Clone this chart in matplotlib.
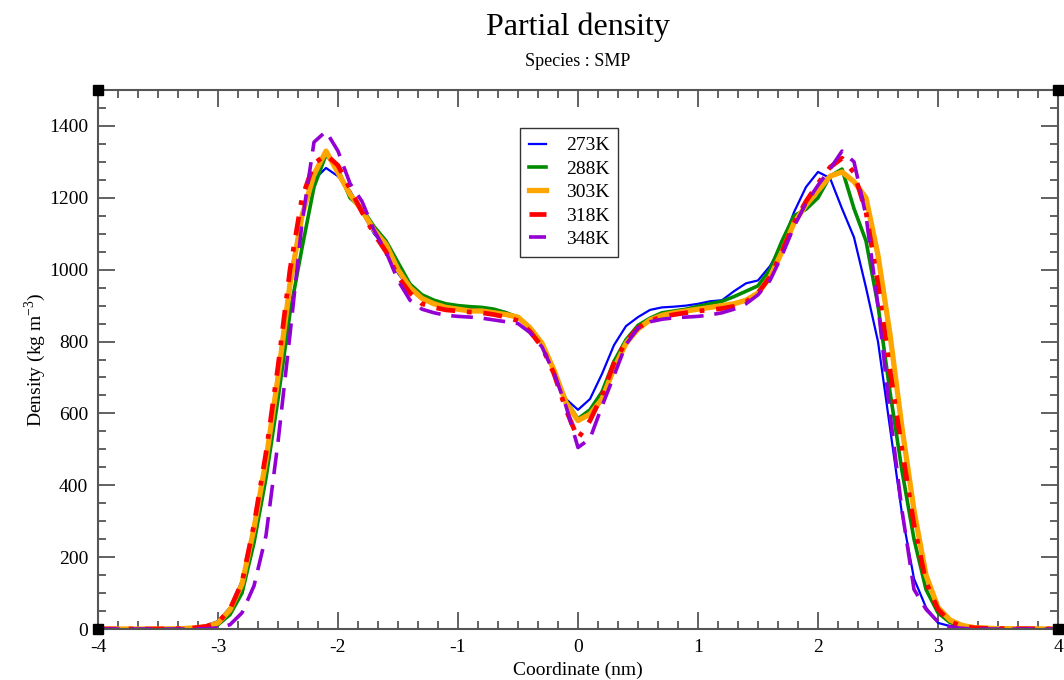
import matplotlib
matplotlib.use("Agg")
import matplotlib.pyplot as plt
from matplotlib.ticker import MultipleLocator

plt.rcParams['font.family'] = ['Liberation Serif', 'DejaVu Serif']
plt.rcParams['axes.unicode_minus'] = False

# coordinate bins (nm)
coord = [-4.0, -3.5, -3.3, -3.2, -3.1, -3.0, -2.9, -2.8, -2.7, -2.6, -2.5, -2.4, -2.3, -2.2, -2.1,
         -2.0, -1.9, -1.8, -1.7, -1.6, -1.5, -1.4, -1.3, -1.2, -1.1, -1.0, -0.9, -0.8, -0.7, -0.6,
         -0.5, -0.4, -0.3, -0.2, -0.1, 0.0, 0.1, 0.2, 0.3, 0.4, 0.5, 0.6, 0.7, 0.8, 0.9,
         1.0, 1.1, 1.2, 1.3, 1.4, 1.5, 1.6, 1.7, 1.8, 1.9, 2.0, 2.1, 2.2, 2.3, 2.4,
         2.5, 2.6, 2.7, 2.8, 2.9, 3.0, 3.1, 3.2, 3.3, 3.5, 4.0]

d273 = [0, 0, 2, 5, 10, 22, 60, 135, 290, 480, 720, 980, 1160, 1250, 1283,
        1260, 1220, 1160, 1100, 1060, 990, 945, 925, 910, 900, 895, 893, 892, 890, 882,
        865, 835, 790, 720, 640, 610, 640, 710, 790, 843, 868, 888, 895, 897, 900,
        905, 912, 915, 940, 962, 970, 1010, 1070, 1160, 1230, 1272, 1255, 1170, 1090, 950,
        800, 560, 320, 140, 60, 17, 8, 5, 2, 0, 0]

d288 = [0, 0, 1, 2, 5, 12, 40, 100, 240, 420, 640, 880, 1060, 1230, 1320,
        1280, 1200, 1170, 1120, 1080, 1020, 960, 930, 915, 905, 900, 897, 895, 890, 880,
        868, 840, 795, 720, 635, 585, 610, 660, 745, 805, 845, 865, 880, 885, 890,
        898, 905, 912, 925, 940, 955, 1000, 1080, 1150, 1168, 1200, 1260, 1280, 1170, 1080,
        900, 660, 440, 250, 110, 45, 18, 7, 3, 0, 0]

d303 = [0, 0, 1, 3, 6, 17, 53, 125, 280, 470, 700, 960, 1150, 1265, 1330,
        1270, 1210, 1165, 1110, 1070, 1000, 950, 920, 905, 895, 890, 885, 885, 880, 875,
        868, 838, 795, 720, 630, 580, 598, 640, 725, 795, 835, 860, 873, 880, 885,
        890, 895, 900, 905, 915, 935, 980, 1050, 1130, 1180, 1220, 1260, 1272, 1245, 1200,
        1040, 820, 560, 330, 150, 60, 25, 10, 4, 1, 0]

d318 = [0, 0, 1, 3, 7, 18, 55, 130, 290, 490, 730, 1000, 1200, 1295, 1320,
        1290, 1225, 1160, 1100, 1050, 980, 935, 905, 895, 888, 885, 882, 880, 875, 868,
        858, 828, 785, 710, 610, 530, 580, 650, 740, 800, 838, 858, 868, 875, 880,
        885, 888, 892, 898, 910, 935, 980, 1050, 1130, 1190, 1240, 1285, 1310, 1270, 1160,
        960, 720, 500, 290, 130, 55, 20, 8, 3, 1, 0]

d348 = [0, 0, 0, 0, 1, 3, 12, 45, 120, 260, 520, 820, 1130, 1355, 1385,
        1330, 1240, 1190, 1110, 1050, 970, 915, 890, 880, 873, 870, 868, 865, 860, 855,
        850, 825, 785, 712, 620, 505, 530, 620, 705, 792, 838, 855, 862, 866, 868,
        870, 874, 880, 890, 905, 930, 970, 1040, 1120, 1185, 1235, 1280, 1330, 1300, 1150,
        900, 600, 330, 110, 55, 20, 6, 2, 0, 0, 0]

labels = ['273K', '288K', '303K', '318K', '348K']

fig = plt.figure(figsize=(10.64, 6.80), dpi=100)
ax = fig.add_axes([98 / 1064, 51 / 680, 960 / 1064, 539 / 680])

ax.plot(coord, d273, color='#0000ff', lw=1.6, label=labels[0])
ax.plot(coord, d288, color='#008b00', lw=2.6, label=labels[1])
ax.plot(coord, d303, color='#ffa500', lw=3.8, label=labels[2])
ax.plot(coord, d318, color='#ff0000', lw=3.4, ls=(0, (4, 2.5, 1, 2.5)), label=labels[3])
ax.plot(coord, d348, color='#9400d3', lw=2.6, ls=(0, (6, 3)), label=labels[4])

ax.set_xlim(-4, 4)
ax.xaxis.set_major_locator(MultipleLocator(1))
ax.xaxis.set_minor_locator(MultipleLocator(1 / 6))
ax.yaxis.set_minor_locator(MultipleLocator(50))
ax.set_yticks(range(0, 1401, 200))
ax.set_ylim(0, 1500)

spine_col = '#555555'
for s in ax.spines.values():
    s.set_color(spine_col)
    s.set_linewidth(1.5)
ax.tick_params(which='both', direction='in', top=True, right=True, color=spine_col,
               labelsize=14, width=1.3)
ax.tick_params(which='major', length=12, pad=7)
ax.tick_params(which='minor', length=6)

ax.set_xlabel('Coordinate (nm)', fontsize=14, labelpad=4)
ax.set_ylabel(r'Density (kg m$^{\mathregular{-3}}$)', fontsize=14, labelpad=1)

leg = ax.legend(loc='upper left', bbox_to_anchor=(422 / 960, 1 - 38 / 539), fontsize=14,
                frameon=True, fancybox=False, handlelength=0.9, handletextpad=1.0,
                labelspacing=0.3, borderpad=0.45, borderaxespad=0)
leg.get_frame().set_edgecolor('black')
leg.get_frame().set_linewidth(1.0)

fig.text(578 / 1064, 1 - 27 / 680, 'Partial density', ha='center', va='center', fontsize=23)
fig.text(578 / 1064, 1 - 62 / 680, 'Species : SMP', ha='center', va='center', fontsize=13)

# graph corner handles
for cx, cy in [(0, 0), (1, 0), (0, 1), (1, 1)]:
    ax.plot([cx], [cy], marker='s', ms=7, color='black', transform=ax.transAxes,
            clip_on=False, zorder=10)

fig.savefig('out.png', dpi=100)
